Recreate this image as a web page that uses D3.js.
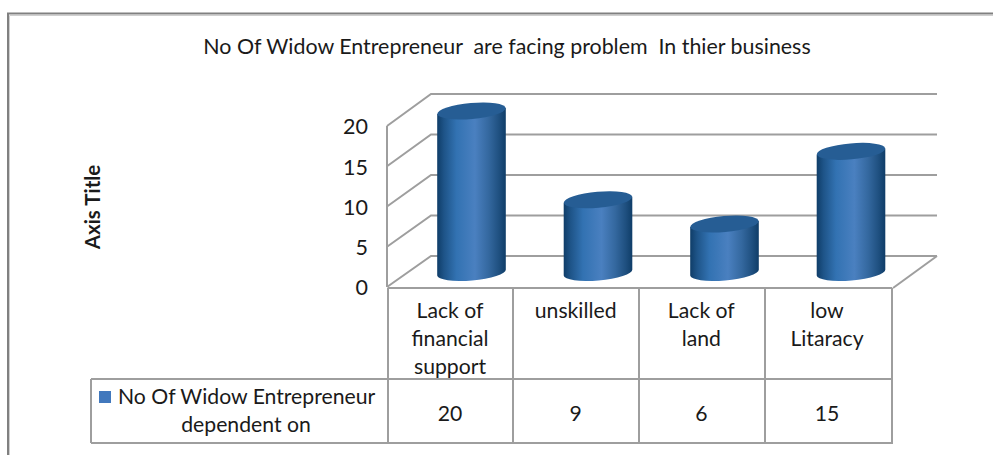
<!DOCTYPE html>
<html><head><meta charset="utf-8">
<script src="https://cdn.jsdelivr.net/npm/d3@7"></script>
<style>html,body{margin:0;padding:0;background:#fff}svg{display:block}text{font-family:Lato,"Open Sans",sans-serif;fill:#1a1a1a}</style>
</head><body><svg id="c" width="993" height="455"></svg>
<script>
const categories = [["Lack of","financial","support"],["unskilled"],["Lack of","land"],["low","Litaracy"]];
const values = [20, 9, 6, 15];
const yTicks = [0, 5, 10, 15, 20];
const titleText = "No Of Widow Entrepreneur  are facing problem  In thier business";
const axisTitle = "Axis Title";
const seriesName = ["No Of Widow Entrepreneur", "dependent on"];

const svg = d3.select("#c");
const grid = "#9e9e9e";
const idx = d3.range(categories.length);
const x = d3.scaleBand().domain(idx).range([387, 891]);
const xText = d3.scalePoint().domain(idx).range([450, 827]);
const xBar = d3.scalePoint().domain(idx).range([471.5, 851]);
const yFront = d3.scaleLinear().domain([0, 20]).range([287, 126]);
const yBack = d3.scaleLinear().domain([0, 20]).range([256, 94]);
const yBar = d3.scaleLinear().domain([0, 20]).range([272.5, 111]);

// outer frame
svg.append("path").attr("d","M9.5 455V15.5H993").attr("fill","none").attr("stroke","#cfcfcf").attr("stroke-width",1);
svg.append("path").attr("d","M8 455V13.5H993").attr("fill","none").attr("stroke","#808080").attr("stroke-width",2);

// gradient
const defs = svg.append("defs");
const g = defs.append("linearGradient").attr("id","cyl");
[[0,"#0f3d68"],[.1,"#1e5488"],[.28,"#3272b2"],[.55,"#4a80c0"],[.75,"#34689f"],[.9,"#1f5080"],[1,"#0f3d68"]]
  .forEach(d=>g.append("stop").attr("offset",d[0]).attr("stop-color",d[1]));

// walls and floor
const gl = svg.append("g").attr("stroke",grid).attr("stroke-width",2).attr("fill","none");
yTicks.forEach(t=>{
  gl.append("path").attr("d",`M387 ${yFront(t)}L431 ${yBack(t)}H937`);
});
gl.append("path").attr("d",`M387 ${yFront(20)}V${yFront(0)}`);
gl.append("path").attr("d",`M937 ${yBack(0)}L893 288`);

// cylinders
const rx=34.3, ry=8, dy=3, rot=-5;
const bars = svg.append("g").selectAll("g").data(values).join("g");
bars.append("path").attr("fill","url(#cyl)").attr("d",(v,i)=>{
  const c=xBar(i), t=yBar(v), b=yBar(0);
  return `M${c-rx} ${t+dy}L${c-rx} ${b+dy}A${rx} ${ry} ${rot} 0 0 ${c+rx} ${b-dy}L${c+rx} ${t-dy}Z`;
});
bars.append("ellipse").attr("fill","#265d94")
  .attr("rx",rx).attr("ry",ry)
  .attr("transform",(v,i)=>`translate(${xBar(i)},${yBar(v)}) rotate(${rot})`);

// y axis labels
const ax = svg.append("g").attr("transform","translate(368,1)")
  .call(d3.axisLeft(yFront).tickValues(yTicks).tickSize(0).tickPadding(0).tickFormat(d3.format("d")));
ax.select(".domain").remove();
ax.selectAll("text").style("font-family","Lato").style("font-size","21.5px").attr("fill","#1a1a1a");

// data table
const tb = svg.append("g").attr("stroke",grid).attr("stroke-width",2).attr("fill","none");
const rowTop=379,rowBot=443;
tb.append("path").attr("d",`M388 288H892M91 ${rowTop}H893M91 ${rowBot}H893M91 ${rowTop}V${rowBot}`);
tb.append("path").attr("d",`M388 288V${rowBot}`);
idx.forEach(i=>{
  const xx = x(i)+x.bandwidth()+(i==3?1:0);
  tb.append("path").attr("d",`M${xx} 288V${rowBot}`);
});

const fs=21.2;
categories.forEach((lines,i)=>{
  const c=xText(i);
  lines.forEach((l,j)=>svg.append("text").attr("x",c).attr("y",311+j*28).attr("dy",".35em")
    .attr("text-anchor","middle").style("font-size",fs+"px").text(l));
  svg.append("text").attr("x",c).attr("y",414).attr("dy",".35em")
    .attr("text-anchor","middle").style("font-size",fs+"px").text(values[i]);
});
svg.append("rect").attr("x",99).attr("y",391).attr("width",12).attr("height",12).attr("fill","#4178bd");
svg.append("text").attr("x",118).attr("y",397).attr("dy",".35em").style("font-size",fs+"px").text(seriesName[0]);
svg.append("text").attr("x",246).attr("y",425).attr("dy",".35em").attr("text-anchor","middle").style("font-size",fs+"px").text(seriesName[1]);

// titles
svg.append("text").attr("x",507).attr("y",47).attr("dy",".35em").attr("text-anchor","middle")
  .attr("xml:space","preserve").style("white-space","pre").style("font-size","21.4px").text(titleText);
svg.append("text").attr("transform","translate(93,207) rotate(-90)").attr("dy",".35em").attr("text-anchor","middle")
  .style("font-size","20.5px").style("font-weight","700").text(axisTitle);
</script></body></html>
